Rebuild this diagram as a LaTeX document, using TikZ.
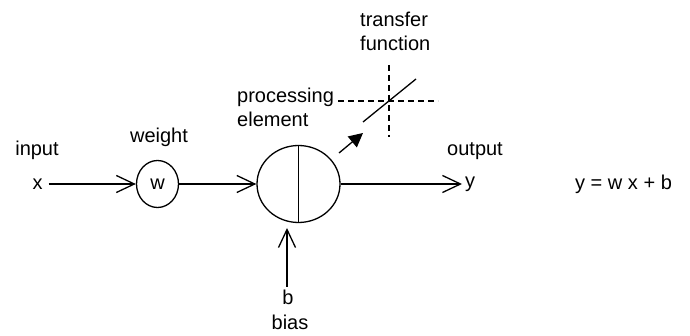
\documentclass[tikz,border=0pt]{standalone}
\usepackage{fontspec}
\setmainfont{Liberation Sans}
\usetikzlibrary{arrows.meta,shapes.geometric}
\begin{document}
\begin{tikzpicture}[x=1pt,y=-1pt,
  lbl/.style={font=\fontsize{20}{24}\selectfont, inner sep=0pt},
  unit/.style={draw, ellipse, line width=1.3pt, inner sep=0pt},
  conn/.style={line width=1.3pt, -{Straight Barb[length=18pt,width=17pt,line width=1.3pt]}},
  fconn/.style={line width=1.3pt, -{Triangle[length=14pt,width=14pt]}},
  dsh/.style={line width=1.1pt, dash pattern=on 6pt off 4pt}]
\useasboundingbox (0,0) rectangle (690,336);
% labels
\node[lbl, anchor=base] (inlbl) at (37,156) {input};
\node[lbl, anchor=base] (wlbl) at (159,143) {weight};
\node[lbl, anchor=base] (outlbl) at (475,156) {output};
\node[lbl, anchor=base west] (pl1) at (237,103) {processing};
\node[lbl, anchor=base west] (pl2) at (237,127) {element};
\node[lbl, anchor=base west] (tl1) at (360,27) {transfer};
\node[lbl, anchor=base west] (tl2) at (360,51) {function};
\node[lbl, anchor=base] (blbl) at (290,330) {bias};
\node[lbl, anchor=base west] (eq) at (575,190) {y = w x + b};
% main nodes
\node[lbl, inner xsep=6pt] (x) at (37.5,184) {x};
\node[unit, minimum width=42pt, minimum height=47pt, font=\fontsize{20}{24}\selectfont] (w) at (157.5,184) {w};
\node[unit, minimum width=83pt, minimum height=77pt] (pe) at (298.5,184) {};
\draw[line width=1.3pt] (pe.north) -- (pe.south);
\node[lbl, anchor=west, outer sep=3pt] (y) at (462,184) {y};
\node[lbl, anchor=base, outer sep=0pt] (b) at (288,305) {b};
\coordinate (btip) at (287,228);
% connectors
\draw[conn] (x) -- (w);
\draw[conn] (w) -- (pe);
\draw[conn] (pe) -- (y);
\draw[conn] (b.north -| btip) ++(0,-4) -- (btip);
% transfer function
\coordinate (ts) at (339,153);
\coordinate (te) at (363,133);
\draw[fconn] (ts) -- (te);
\coordinate (hl) at (338,101);
\coordinate (hr) at (438,101);
\coordinate (vt) at (389,65);
\coordinate (vb) at (389,137);
\draw[dsh] (hl) -- (hr);
\draw[dsh] (vt) -- (vb);
\coordinate (d1) at (363,122);
\coordinate (d2) at (416,79);
\draw[line width=1.3pt] (d1) -- (d2);
\end{tikzpicture}
\end{document}
